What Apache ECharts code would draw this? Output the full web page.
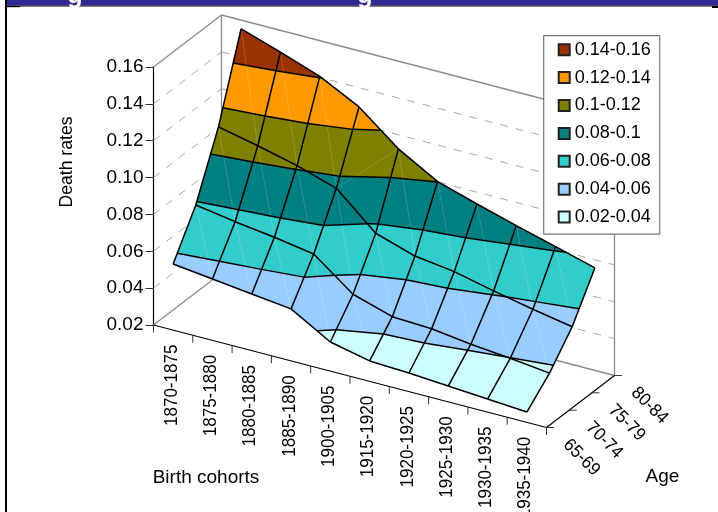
<!DOCTYPE html>
<html>
<head>
<meta charset="utf-8">
<style>html,body{margin:0;padding:0;background:#fff}#c{width:718px;height:512px}</style>
<script src="https://cdn.jsdelivr.net/npm/echarts@6/dist/echarts.min.js"></script>
</head>
<body>
<div id="c"></div>
<script>
const cohorts = ['1870-1875','1875-1880','1880-1885','1885-1890','1900-1905','1915-1920','1920-1925','1925-1930','1930-1935','1935-1940'];
const ages = ['65-69','70-74','75-79','80-84'];
const rate6569 = [0.0559,0.0533,0.0507,0.0482,0.0358,0.0311,0.0301,0.0286,0.0271,0.0256];
const rate7074 = [0.0785,0.0750,0.0721,0.0686,0.0523,0.0457,0.0447,0.0419,0.0398,0.0373];
const rate7579 = [0.1115,0.1068,0.1016,0.0948,0.0760,0.0692,0.0663,0.0614,0.0570,0.0531];
const rate8084 = [0.1553,0.1482,0.1406,0.1296,0.1124,0.1002,0.0936,0.0874,0.0816,0.0756];
const rates = [rate6569, rate7074, rate7579, rate8084];
const bandNames = ['0.14-0.16','0.12-0.14','0.1-0.12','0.08-0.1','0.06-0.08','0.04-0.06','0.02-0.04'];
const bandLows = [0.14,0.12,0.10,0.08,0.06,0.04,0.02];
const bandHighs = [0.16,0.14,0.12,0.10,0.08,0.06,0.04];
const bandColors = ['#993300','#FF9900','#808000','#008080','#33CCCC','#99CCFF','#CCFFFF'];
const gridLevels = [0.04,0.06,0.08,0.10,0.12,0.14];

const FONT = '"Liberation Sans", Arial, sans-serif';
const FRONT_RISE = 102.5, DEPTH_X = 68, DEPTH_Y = 52;
const ZMIN = 0.02, ZMAX = 0.16;

function project(api, u, v, z) {
  const p = api.coord([u, z]);
  return [p[0] + v * DEPTH_X, p[1] + u * FRONT_RISE - v * DEPTH_Y];
}
const uOf = i => (i + 0.5) / cohorts.length;
const vOf = j => j / (ages.length - 1);
function node(api, i, j) { return project(api, uOf(i), vOf(j), rates[j][i]); }

function clipAbove(pts, lvl, keepAbove) {
  const out = [];
  for (let k = 0; k < pts.length; k++) {
    const a = pts[k], b = pts[(k + 1) % pts.length];
    const ia = keepAbove ? a[2] >= lvl : a[2] <= lvl;
    const ib = keepAbove ? b[2] >= lvl : b[2] <= lvl;
    if (ia) out.push(a);
    if (ia !== ib) {
      const t = (lvl - a[2]) / (b[2] - a[2]);
      out.push([a[0] + t * (b[0] - a[0]), a[1] + t * (b[1] - a[1]), lvl]);
    }
  }
  return out;
}
function quadCorners(i, j) {
  return [[i, j], [i + 1, j], [i + 1, j + 1], [i, j + 1]];
}
const quads = [];
for (let j = 0; j < ages.length - 1; j++) for (let i = 0; i < cohorts.length - 1; i++) quads.push([i, j]);

function bandRender(b) {
  return function (params, api) {
    const q = quads[params.dataIndex];
    let poly = quadCorners(q[0], q[1]).map(c => {
      const z = rates[c[1]][c[0]], p = node(api, c[0], c[1]);
      return [p[0], p[1], z];
    });
    poly = clipAbove(poly, bandLows[b], true);
    if (poly.length) poly = clipAbove(poly, bandHighs[b], false);
    if (poly.length < 3) return { type: 'group', children: [] };
    return {
      type: 'polygon',
      shape: { points: poly.map(p => [p[0], p[1]]) },
      style: { fill: bandColors[b], stroke: bandColors[b], lineWidth: 0.6 }
    };
  };
}
const line = (a, b, style) => ({ type: 'line', shape: { x1: a[0], y1: a[1], x2: b[0], y2: b[1] }, style });

function meshRender(params, api) {
  const ch = [];
  const blk = { stroke: '#000', lineWidth: 1.5 };
  const pale = { stroke: 'rgba(255,255,255,0.17)', lineWidth: 1 };
  quads.forEach(q => {
    const i = q[0], j = q[1];
    const flip = i === 3 && j === 2;
    if (flip) ch.push(line(node(api, i + 1, j + 1), node(api, i, j), pale));
    else ch.push(line(node(api, i, j + 1), node(api, i + 1, j), pale));
    const cs = quadCorners(i, j).map(c => {
      const p = node(api, c[0], c[1]);
      return [p[0], p[1], rates[c[1]][c[0]]];
    });
    gridLevels.concat([ZMAX]).forEach(l => {
      const hits = [];
      for (let k = 0; k < 4; k++) {
        const a = cs[k], b = cs[(k + 1) % 4];
        if ((a[2] < l) !== (b[2] < l)) {
          const t = (l - a[2]) / (b[2] - a[2]);
          hits.push([a[0] + t * (b[0] - a[0]), a[1] + t * (b[1] - a[1])]);
        }
      }
      if (hits.length === 2) ch.push(line(hits[0], hits[1], blk));
    });
  });
  for (let j = 0; j < ages.length; j++) for (let i = 0; i < cohorts.length - 1; i++)
    ch.push(line(node(api, i, j), node(api, i + 1, j), blk));
  for (let i = 0; i < cohorts.length; i++) for (let j = 0; j < ages.length - 1; j++)
    ch.push(line(node(api, i, j), node(api, i, j + 1), blk));
  return { type: 'group', children: ch };
}

function wallRender(params, api) {
  const ch = [];
  const g = { stroke: '#8c8c8c', lineWidth: 1.3 };
  const d = { stroke: '#a8a8a8', lineWidth: 1, lineDash: [8, 8] };
  gridLevels.forEach(l => {
    ch.push(line(project(api, 0, 0, l), project(api, 0, 1, l), d));
    ch.push(line(project(api, 0, 1, l), project(api, 1, 1, l), d));
  });
  [ZMIN, ZMAX].forEach(l => {
    ch.push(line(project(api, 0, 0, l), project(api, 0, 1, l), g));
    ch.push(line(project(api, 0, 1, l), project(api, 1, 1, l), g));
  });
  ch.push(line(project(api, 0, 1, ZMIN), project(api, 0, 1, ZMAX), g));
  ch.push(line(project(api, 1, 1, ZMIN), project(api, 1, 1, ZMAX), g));
  return { type: 'group', children: ch };
}

function axisRender(params, api) {
  const ch = [];
  const blk = { stroke: '#000', lineWidth: 1.2 };
  const tk = { stroke: '#333', lineWidth: 1 };
  const A = project(api, 0, 0, ZMIN), B = project(api, 1, 0, ZMIN), C = project(api, 1, 1, ZMIN);
  ch.push(line(A, B, blk), line(B, C, blk));
  for (let i = 0; i <= cohorts.length; i++) {
    const p = project(api, i / cohorts.length, 0, ZMIN);
    ch.push(line(p, [p[0], p[1] + 7.5], tk));
  }
  ages.forEach((a, j) => {
    const p = project(api, 1, vOf(j), ZMIN);
    ch.push(line(p, [p[0] + 7.5, p[1]], tk));
    ch.push({
      type: 'text', x: p[0] + 35, y: p[1] + 30, rotation: -Math.PI / 4, scaleX: 0.95,
      style: { text: a, font: '18px ' + FONT, fill: '#000', textAlign: 'center', textVerticalAlign: 'middle' }
    });
  });
  cohorts.forEach((c, i) => {
    const p = project(api, uOf(i), 0, ZMIN);
    ch.push({
      type: 'text', x: p[0] - 1.5, y: p[1] + 14.5, rotation: Math.PI / 2, scaleX: 0.92,
      style: { text: c, font: '18.5px ' + FONT, fill: '#000', textAlign: 'right', textVerticalAlign: 'middle' }
    });
  });
  return { type: 'group', children: ch };
}

const series = [
  { type: 'custom', name: 'walls', coordinateSystem: 'cartesian2d', z: 1, silent: true, data: [[0, ZMIN]], renderItem: wallRender }
];
bandNames.forEach((n, b) => series.push({
  type: 'custom', name: n, coordinateSystem: 'cartesian2d', z: 2, silent: true,
  itemStyle: { color: bandColors[b], borderColor: '#222', borderWidth: 1.2 },
  data: quads, renderItem: bandRender(b)
}));
series.push({ type: 'custom', name: 'mesh', coordinateSystem: 'cartesian2d', z: 3, silent: true, data: [[0, ZMIN]], renderItem: meshRender });
series.push({ type: 'custom', name: 'axes', coordinateSystem: 'cartesian2d', z: 3, silent: true, data: [[0, ZMIN]], renderItem: axisRender });

const chart = echarts.init(document.getElementById('c'), null, { renderer: 'canvas' });
chart.setOption({
  animation: false,
  backgroundColor: '#fff',
  grid: { left: 153.5, top: 67, width: 393, height: 258 },
  xAxis: { type: 'value', min: 0, max: 1, show: false },
  yAxis: {
    type: 'value', min: ZMIN, max: ZMAX, interval: 0.02,
    axisLine: { show: true, onZero: false, lineStyle: { color: '#000', width: 1.2 } },
    axisTick: { show: true, length: 8, lineStyle: { color: '#333' } },
    splitLine: { show: false },
    axisLabel: { margin: 10, fontSize: 19, fontFamily: FONT, color: '#000', padding: [3, 0, 0, 0], formatter: v => v.toFixed(2) }
  },
  legend: {
    data: bandNames, orient: 'vertical', left: 543.7, top: 35.7,
    padding: [5, 9, 8, 14], itemGap: 9.9, itemWidth: 11, itemHeight: 11,
    backgroundColor: '#fff', borderColor: '#777', borderWidth: 1.2, borderRadius: 0,
    selectedMode: false, icon: 'rect',
    textStyle: { fontSize: 18, fontFamily: FONT, color: '#000' }
  },
  graphic: [
    { type: 'rect', shape: { x: 7, y: 0, width: 711, height: 5.5 }, style: { fill: '#312893' }, z: 10 },
    { type: 'rect', shape: { x: 5, y: 5.5, width: 713, height: 1 }, style: { fill: '#000' }, z: 10 },
    { type: 'rect', shape: { x: 5, y: 6, width: 15, height: 1.2 }, style: { fill: '#000' }, z: 10 },
    { type: 'rect', shape: { x: 712, y: 6, width: 6, height: 2 }, style: { fill: '#000' }, z: 10 },
    { type: 'rect', shape: { x: 5, y: 0, width: 2, height: 512 }, style: { fill: '#000' }, z: 10 },
    { type: 'text', x: 75, y: 9, style: { text: 'g', font: 'bold 25px ' + FONT, fill: '#fff', textAlign: 'center', textVerticalAlign: 'bottom' }, z: 11 },
    { type: 'text', x: 365, y: 9, style: { text: 'g', font: 'bold 25px ' + FONT, fill: '#fff', textAlign: 'center', textVerticalAlign: 'bottom' }, z: 11 },
    { type: 'text', x: 67.5, y: 162, rotation: Math.PI / 2, style: { text: 'Death rates', font: '17.6px ' + FONT, fill: '#000', textAlign: 'center', textVerticalAlign: 'middle' } },
    { type: 'text', x: 206, y: 477.7, style: { text: 'Birth cohorts', font: '19px ' + FONT, fill: '#000', textAlign: 'center', textVerticalAlign: 'middle' } },
    { type: 'text', x: 662.5, y: 476.7, style: { text: 'Age', font: '19px ' + FONT, fill: '#000', textAlign: 'center', textVerticalAlign: 'middle' } }
  ],
  series
});
</script>
</body>
</html>
